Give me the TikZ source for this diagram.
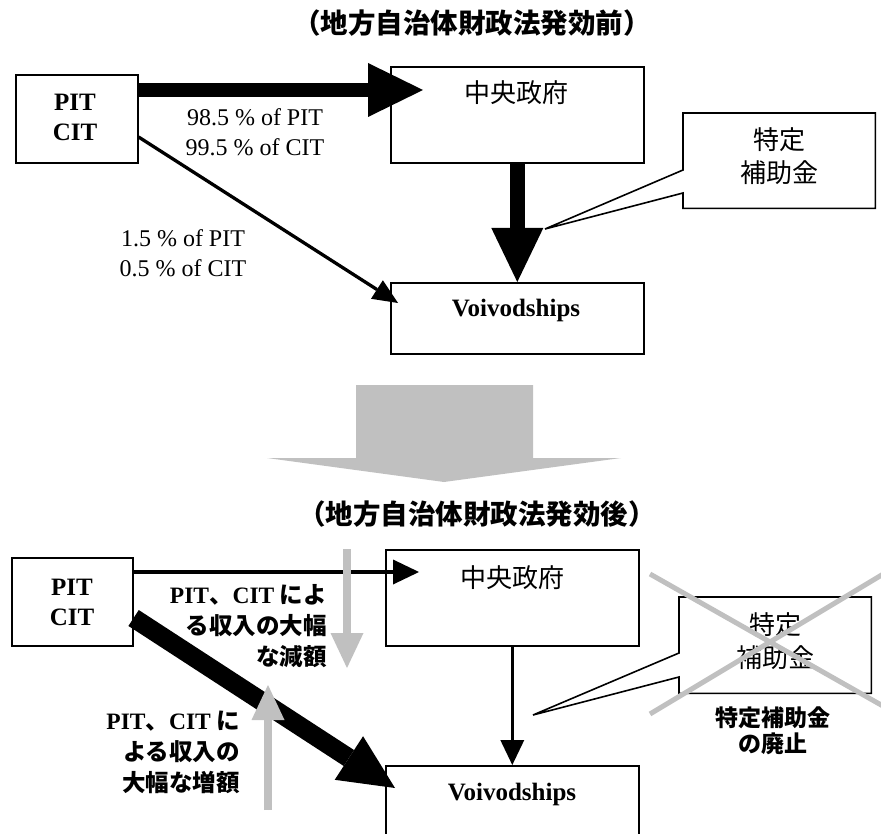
\documentclass[tikz,border=0pt]{standalone}
\usepackage{fontspec}
\setmainfont{Liberation Serif}
\newfontfamily\jp{Noto Sans CJK JP}
\usetikzlibrary{arrows.meta,calc}
\definecolor{lgray}{RGB}{192,192,192}
\newcommand\tnr[1]{{\rmfamily\bfseries #1}}
\begin{document}
\begin{tikzpicture}[x=1pt,y=-1pt,
  box/.style={draw, line width=1.6pt, inner sep=0pt, anchor=north west},
  callbox/.style={inner sep=0pt, anchor=north west},
  callout/.style={draw, fill=white, line width=1.6pt, line join=miter},
  title/.style={font=\jp\bfseries\fontsize{27.5}{30}\selectfont, inner sep=0pt, anchor=base},
  boxjp/.style={font=\jp\fontsize{26}{33}\selectfont, inner sep=0pt, anchor=base, align=center},
  boxlat/.style={font=\bfseries\fontsize{25}{30}\selectfont, inner sep=0pt, anchor=base, align=center},
  pct/.style={font=\fontsize{24}{30}\selectfont, inner sep=0pt, anchor=base, align=center},
  jplab/.style={font=\jp\bfseries\fontsize{23.5}{31}\selectfont, inner sep=0pt, anchor=base east, align=right},
  droplab/.style={font=\jp\bfseries\fontsize{23}{26}\selectfont, inner sep=0pt, anchor=base, align=center},
  tipT/.style 2 args={-{Triangle[length=#1,width=#2,line width=0pt]}},
  grayarr/.style={draw=lgray, fill=lgray, line width=8pt, tipT={35pt}{33pt}},
  xline/.style={draw=lgray, line width=5pt}]
\useasboundingbox (0,0) rectangle (881,834);

% ---------- before the law ----------
\node[title] (T1) at (472,34) {（地方自治体財政法発効前）};

\node[box, minimum width=122pt, minimum height=88pt] (A1) at (15,74) {};
\node[box, minimum width=253pt, minimum height=96pt] (G1) at (390,66) {};
\node[box, minimum width=253pt, minimum height=71pt] (V1) at (390,282) {};

\node[callbox, minimum width=192pt, minimum height=95pt] (S1) at (683,113) {};
\coordinate (S1tip) at (545,229);
\draw[callout] (S1.north west) -- (S1.north east) -- (S1.south east) -- (S1.south west)
  -- ($(S1.north west)+(0,80)$) -- (S1tip) -- ($(S1.north west)+(0,57)$) -- cycle;

\draw[line width=14pt, tipT={55pt}{54pt}] (A1.east |- 0,90) -- ([xshift=33pt]G1.west |- 0,90);
\draw[line width=3.3pt, tipT={25pt}{22pt}] (A1.east |- 0,137) -- ($(V1.north west)+(8,21)$);
\draw[line width=15pt, tipT={54pt}{52pt}] (G1.south) -- (V1.north);

% multi-line nodes: the base anchor sits on the last line
\node[boxlat] (tA1) at (75,141) {PIT\\CIT};
\node[boxjp] (tG1) at (516,103) {中央政府};
\node[boxjp] (tS1) at (779,183) {特定\\補助金};
\node[boxlat] (tV1) at (516,317) {Voivodships};
\node[pct] (p1) at (255,156) {98.5 \% of PIT\\99.5 \% of CIT};
\node[pct] (p2) at (183,277) {1.5 \% of PIT\\0.5 \% of CIT};

% ---------- transition ----------
\fill[lgray] (356,385) -- (533,385) -- (533,458) -- (621,458) -- (444,482) -- (267,458) -- (356,458) -- cycle;

% ---------- after the law ----------
\node[title] (T2) at (477,524) {（地方自治体財政法発効後）};

\node[box, minimum width=121pt, minimum height=88pt] (A2) at (11,557) {};
\node[box, minimum width=253pt, minimum height=96pt] (G2) at (385,549) {};
\node[box, minimum width=253pt, minimum height=90pt] (V2) at (385,765) {};

\node[callbox, minimum width=192pt, minimum height=96pt] (S2) at (679,597) {};
\coordinate (S2tip) at (533,715);
\draw[callout] (S2.north west) -- (S2.north east) -- (S2.south east) -- (S2.south west)
  -- ($(S2.north west)+(0,80)$) -- (S2tip) -- ($(S2.north west)+(0,56)$) -- cycle;

\draw[line width=3.3pt, tipT={26pt}{25pt}] (A2.east |- 0,572) -- ([xshift=34pt]G2.west |- 0,572);
\draw[line width=3pt, tipT={25pt}{24pt}] (G2.south) -- (V2.north);
\draw[line width=19pt, tipT={55pt}{52pt}] (A2.east |- 0,618) -- ($(V2.north west)+(10,23)$);

% grey trend arrows lie over the black flows
\coordinate (dTop) at (347,549);
\coordinate (dEnd) at (347,668);
\coordinate (uBot) at (268,810);
\coordinate (uEnd) at (268,685);
\draw[grayarr] (dTop) -- (dEnd);
\draw[grayarr] (uBot) -- (uEnd);

\node[boxlat] (tA2) at (72,625) {PIT\\CIT};
\node[boxjp] (tG2) at (512,587) {中央政府};
\node[boxjp] (tS2) at (775,667) {特定\\補助金};
\node[boxlat] (tV2) at (512,800) {Voivodships};

\node[jplab] (Ldec) at (327,665) {\tnr{PIT}、\tnr{CIT} によ\\る収入の大幅\\な減額};
\node[jplab] (Linc) at (240,791) {\tnr{PIT}、\tnr{CIT} に\\よる収入の\\大幅な増額};
\node[droplab] (Ldrop) at (773,752) {特定補助金\\の廃止};

\draw[xline] (650,574) -- (890,710);
\draw[xline] (650,714) -- (890,570);
\end{tikzpicture}
\end{document}
